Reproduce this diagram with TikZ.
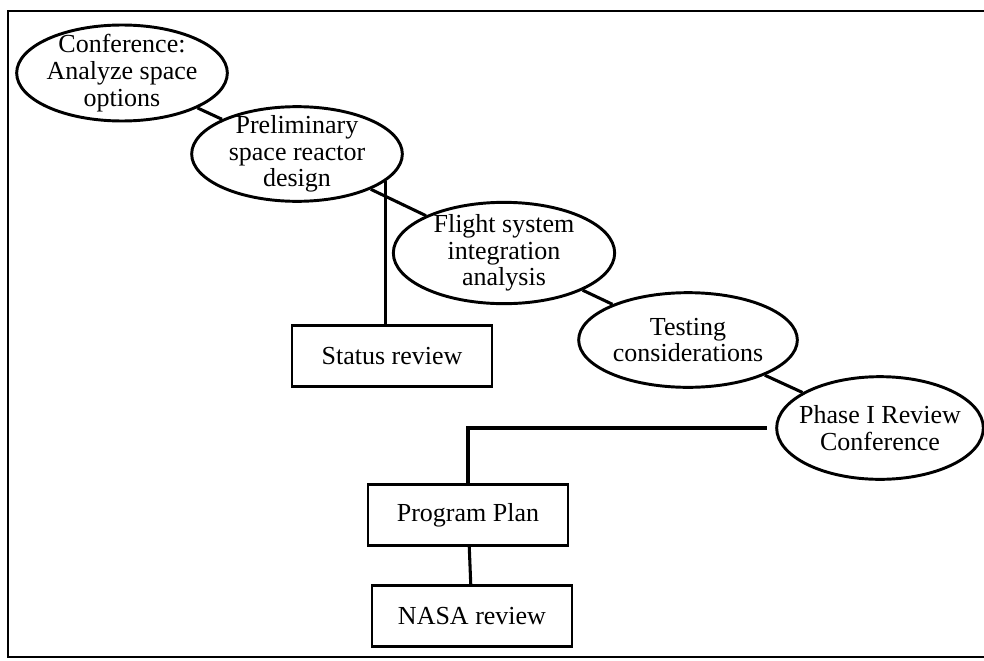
\documentclass[tikz,border=0pt]{standalone}
\usepackage{fontspec}
\setmainfont{Liberation Serif}
\usetikzlibrary{shapes.geometric}
\tikzset{
  ell/.style={ellipse,draw,line width=2.2pt,inner xsep=-2pt,inner ysep=-5pt,align=center,
    font=\fontsize{19.5}{20}\selectfont},
  box/.style={rectangle,draw,line width=2.2pt,inner sep=0pt,align=center,
    minimum width=150pt,minimum height=46pt,font=\fontsize{19.5}{20}\selectfont},
  link/.style={line width=2.3pt}
}
\begin{document}
\begin{tikzpicture}[x=0.75pt,y=-0.75pt]
\useasboundingbox (0,0) rectangle (984,660);
\draw[line width=2.2pt] (8,11) rectangle (995,657);
% chain of ellipses
\node[ell,minimum width=158pt,minimum height=72pt] (conf) at (122,73) {Conference:\\Analyze space\\options};
\node[ell,minimum width=158pt,minimum height=71pt] (prel) at (297,154) {Preliminary\\space reactor\\design};
\node[ell,minimum width=166pt,minimum height=76pt] (flight) at (504,253) {Flight system\\integration\\analysis};
\node[ell,minimum width=164pt,minimum height=71pt] (test) at (688,340) {Testing\\considerations};
\node[ell,inner xsep=-6pt,minimum width=155pt,minimum height=77pt] (phase) at (880,428) {Phase I Review\\Conference};
% boxes
\node[box] (status) at (392,356) {Status review};
\node[box] (plan) at (468,515) {Program Plan};
\node[box] (nasa) at (472,616) {NASA review};
\foreach \a/\b in {conf/prel,prel/flight,flight/test,test/phase}
  \draw[link] (\a)--(\b);
\draw[link] (prel.-17)--(prel.-17 |- status.north);
\draw[link,shorten >=6pt] (plan.north)|-(phase.west);
\draw[link] (plan)--(nasa);
\end{tikzpicture}
\end{document}
